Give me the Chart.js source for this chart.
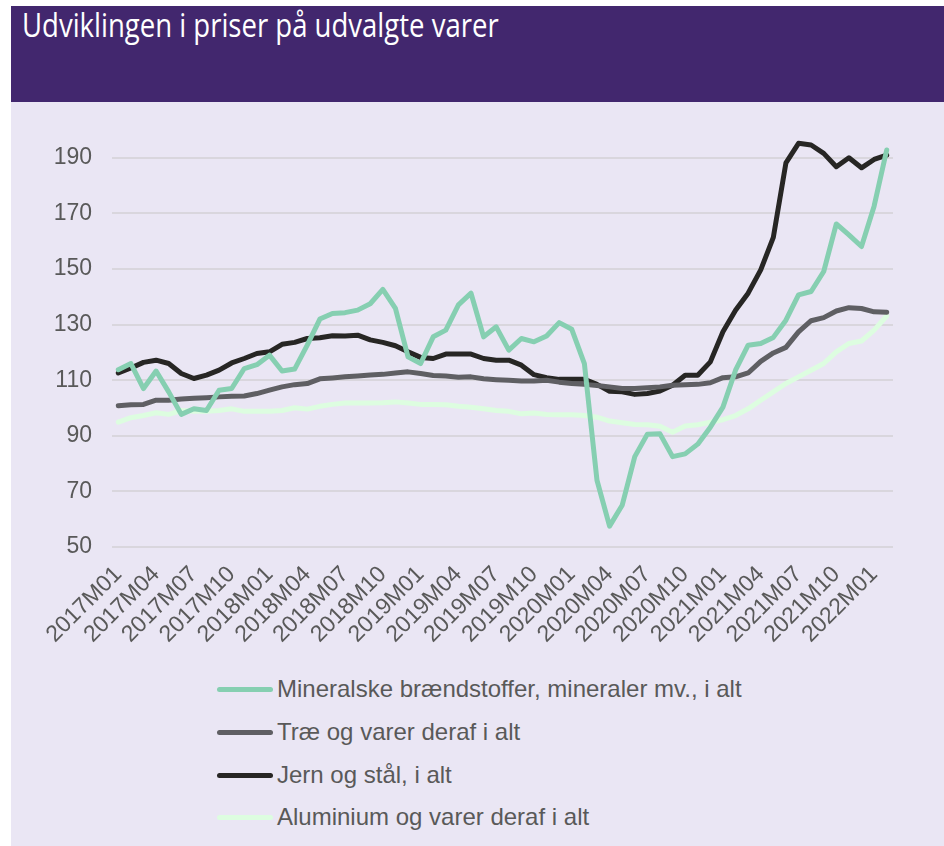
<!DOCTYPE html>
<html>
<head>
<meta charset="utf-8">
<script src="https://cdn.jsdelivr.net/npm/chart.js@4.4.1/dist/chart.umd.min.js"></script>
<style>
    body { margin: 0; background: #fff; width: 944px; height: 846px; overflow: hidden; position: relative; font-family: 'Liberation Sans', Arial, sans-serif; }
    #header { position: absolute; left: 11px; top: 6px; width: 933px; height: 96px; background: #42276e; }
    #title { position: absolute; left: 11px; top: 3px; color: #fff; font-family: 'Open Sans', sans-serif; font-size: 32px; line-height: 32px; white-space: nowrap; transform-origin: left top; transform: scaleX(0.86); }
    #panel { position: absolute; left: 11px; top: 102px; width: 933px; height: 744px; background: #eae6f4; }
    #chartWrap { position: absolute; left: 0; top: 0; width: 933px; height: 570px; }
    #legend { position: absolute; left: 206px; top: 0; }
    .item { position: absolute; left: 0; height: 30px; display: flex; align-items: center; white-space: nowrap; font-size: 24px; color: #595959; }
    .swatch { width: 56px; height: 5px; border-radius: 3px; margin-right: 4px; }
</style>
</head>
<body>
<div id="header"><div id="title">Udviklingen i priser på udvalgte varer</div></div>
<div id="panel">
    <div id="chartWrap"><canvas id="priceChart" width="933" height="570"></canvas></div>
    <div id="legend"></div>
</div>
<script>
// Months 2017M01 - 2022M02
const months = [
    '2017M01', '2017M02', '2017M03', '2017M04', '2017M05', '2017M06', '2017M07', '2017M08', '2017M09', '2017M10', '2017M11', '2017M12',
    '2018M01', '2018M02', '2018M03', '2018M04', '2018M05', '2018M06', '2018M07', '2018M08', '2018M09', '2018M10', '2018M11', '2018M12',
    '2019M01', '2019M02', '2019M03', '2019M04', '2019M05', '2019M06', '2019M07', '2019M08', '2019M09', '2019M10', '2019M11', '2019M12',
    '2020M01', '2020M02', '2020M03', '2020M04', '2020M05', '2020M06', '2020M07', '2020M08', '2020M09', '2020M10', '2020M11', '2020M12',
    '2021M01', '2021M02', '2021M03', '2021M04', '2021M05', '2021M06', '2021M07', '2021M08', '2021M09', '2021M10', '2021M11', '2021M12',
    '2022M01', '2022M02'
];

const mineralske = [
    113.8, 116.0, 107.0, 113.3, 105.8, 97.7, 99.7, 99.1, 106.4, 107.0, 114.2, 115.6,
    119.0, 113.3, 114.0, 122.6, 132.0, 134.0, 134.3, 135.2, 137.5, 142.7, 135.8, 118.4,
    116.0, 125.6, 128.0, 137.1, 141.3, 125.6, 129.2, 120.8, 125.0, 123.8, 125.9, 130.7,
    128.3, 116.0, 74.0, 57.5, 65.0, 82.5, 90.6, 90.7, 82.5, 83.5, 87.0, 93.1,
    100.3, 113.6, 122.6, 123.2, 125.4, 131.6, 140.7, 141.9, 149.1, 166.2, 162.3, 158.1,
    172.6, 192.8
];

const trae = [
    100.8, 101.2, 101.3, 102.8, 102.8, 103.2, 103.5, 103.7, 104.0, 104.2, 104.3, 105.2,
    106.4, 107.6, 108.4, 108.8, 110.5, 110.8, 111.2, 111.5, 111.9, 112.1, 112.6, 113.0,
    112.4, 111.7, 111.5, 111.1, 111.2, 110.5, 110.2, 110.0, 109.7, 109.7, 110.0, 109.3,
    108.8, 108.5, 108.1, 107.6, 107.0, 107.0, 107.3, 107.6, 108.2, 108.4, 108.5, 109.1,
    110.9, 111.2, 112.6, 116.8, 119.8, 121.8, 127.4, 131.4, 132.5, 134.9, 136.1, 135.8,
    134.6, 134.4
];

const jern = [
    112.6, 114.4, 116.4, 117.2, 116.0, 112.4, 110.6, 111.8, 113.6, 116.2, 117.8, 119.6,
    120.2, 122.9, 123.6, 125.0, 125.3, 126.0, 125.9, 126.2, 124.5, 123.6, 122.4, 120.2,
    118.2, 117.8, 119.4, 119.4, 119.4, 117.8, 117.2, 117.2, 115.4, 112.0, 110.9, 110.3,
    110.3, 110.3, 108.5, 106.0, 105.8, 104.9, 105.2, 106.1, 108.2, 111.8, 111.8, 116.6,
    127.4, 135.2, 141.3, 149.7, 161.4, 188.2, 195.2, 194.6, 191.6, 186.8, 190.0, 186.4,
    189.4, 191.0
];

const aluminium = [
    94.9, 96.5, 97.3, 98.3, 97.7, 99.1, 98.8, 98.8, 99.1, 99.7, 98.8, 98.8,
    98.8, 99.1, 100.1, 99.6, 100.6, 101.3, 101.8, 101.8, 101.8, 101.9, 102.2, 101.8,
    101.3, 101.3, 101.2, 100.6, 100.3, 99.7, 99.1, 98.8, 97.9, 98.2, 97.7, 97.6,
    97.6, 97.3, 96.7, 95.3, 94.7, 94.1, 94.0, 93.4, 91.3, 93.5, 94.0, 94.9,
    95.8, 97.3, 99.7, 102.8, 105.8, 108.8, 111.2, 113.6, 116.0, 120.2, 123.2, 124.1,
    128.0, 133.1
];

const seriesNames = [
    'Mineralske brændstoffer, mineraler mv., i alt',
    'Træ og varer deraf i alt',
    'Jern og stål, i alt',
    'Aluminium og varer deraf i alt'
];
const seriesColors = ['#86cfb1', '#5f5f63', '#272624', '#ddfde0'];
const yTicks = [50, 70, 90, 110, 130, 150, 170, 190];

const tickFont = { family: "'Liberation Sans', Arial, sans-serif", size: 23 };
const textColor = '#595959';

const datasets = [mineralske, trae, jern, aluminium].map((values, i) => ({
    label: seriesNames[i],
    data: values,
    borderColor: seriesColors[i],
    backgroundColor: seriesColors[i],
    borderWidth: 5,
    pointRadius: 0,
    tension: 0,
    borderJoinStyle: 'round',
    borderCapStyle: 'round'
}));

new Chart(document.getElementById('priceChart'), {
    type: 'line',
    data: { labels: months, datasets: datasets },
    options: {
        responsive: false,
        animation: false,
        layout: { padding: { top: 28, right: 51, bottom: 0, left: 0 } },
        plugins: { legend: { display: false }, tooltip: { enabled: false } },
        scales: {
            x: {
                offset: true,
                grid: { display: false },
                border: { display: false },
                afterFit: (scale) => { scale.height = 125; },
                ticks: {
                    autoSkip: false,
                    maxRotation: 45,
                    minRotation: 45,
                    padding: 6,
                    color: textColor,
                    font: tickFont,
                    callback: (val, idx) => idx % 3 === 0 ? months[idx] : ''
                }
            },
            y: {
                min: 50,
                max: 200,
                afterBuildTicks: (axis) => { axis.ticks = yTicks.map(v => ({ value: v })); },
                afterFit: (scale) => {
                    scale.width = 101;
                    // keep the label padding from pushing the plot top down
                    scale.paddingTop = 0;
                    scale.paddingBottom = 0;
                },
                grid: { color: '#d9d6dd', lineWidth: 2, drawTicks: false },
                border: { display: false },
                ticks: { padding: 20, color: textColor, font: tickFont }
            }
        }
    }
});

// Vertical legend, left aligned like the original
const legendEl = document.getElementById('legend');
const rowTops = [572, 615, 658, 700];
seriesNames.forEach((name, i) => {
    const item = document.createElement('div');
    item.className = 'item';
    item.style.top = rowTops[i] + 'px';
    item.innerHTML = `<span class="swatch" style="background:${seriesColors[i]}"></span><span>${name}</span>`;
    legendEl.appendChild(item);
});
</script>
</body>
</html>
